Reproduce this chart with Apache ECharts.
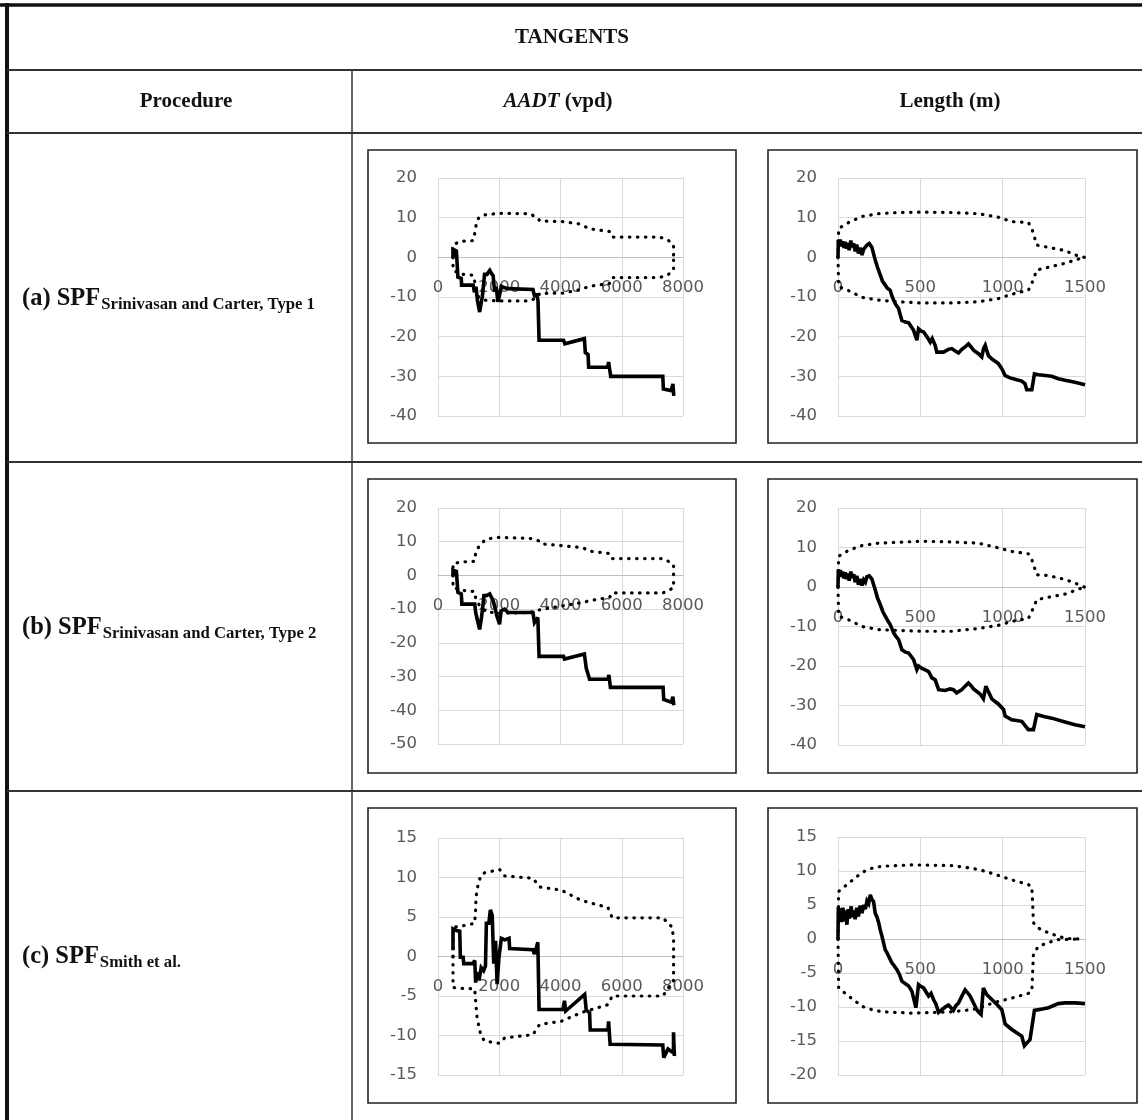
<!DOCTYPE html>
<html>
<head>
<meta charset="utf-8">
<script src="https://cdn.jsdelivr.net/npm/echarts/dist/echarts.min.js"></script>
<style>
  html, body { margin: 0; padding: 0; background: #fff; }
  #chart { width: 1142px; height: 1120px; }
</style>
</head>
<body>
<div id="chart"></div>
<script>
// ---- Text content ----
const tableTitle = 'TANGENTS';
const columnHeads = ['Procedure', 'AADT', ' (vpd)', 'Length (m)'];
const rowTags = ['(a) SPF', '(b) SPF', '(c) SPF'];
const rowSubs = ['Srinivasan and Carter, Type 1', 'Srinivasan and Carter, Type 2', 'Smith et al.'];

// ---- Axis ranges: [min, max, interval] ----
const aadtRange = [0, 8000, 2000];
const lengthRange = [0, 1500, 500];
const yRangeA1 = [-40, 20, 10];
const yRangeA2 = [-40, 20, 10];
const yRangeB1 = [-50, 20, 10];
const yRangeB2 = [-40, 20, 10];
const yRangeC1 = [-15, 15, 5];
const yRangeC2 = [-20, 15, 5];

// ---- (a) cumulative residuals vs AADT ----
const aadtA_cure = [[490,0],[490,2.0],[600,1.6],[640,1.4],[650,-5.0],[760,-5.3],[770,-7.0],[1150,-7.0],[1190,-8.8],[1240,-7.4],[1290,-11.0],[1360,-13.8],[1410,-11.5],[1450,-9.8],[1520,-4.3],[1600,-4.3],[1690,-3.3],[1740,-4.0],[1800,-4.6],[1850,-8.7],[1900,-7.4],[1955,-11.2],[2010,-9.5],[2065,-7.3],[2150,-7.6],[2290,-7.9],[3100,-8.1],[3150,-8.1],[3160,-10.0],[3210,-9.1],[3265,-10.8],[3300,-20.9],[4100,-20.9],[4140,-21.8],[4200,-21.3],[4780,-20.5],[4810,-24.0],[4900,-24.5],[4920,-27.7],[5540,-27.7],[5570,-26.4],[5610,-26.4],[5640,-30.0],[7340,-30.0],[7360,-33.2],[7610,-33.6],[7670,-31.9],[7700,-34.9]];
const aadtA_upper = [[490,0],[490,3.1],[707,4.0],[1142,4.2],[1197,4.5],[1215,6.5],[1250,8.5],[1330,10.0],[1523,10.7],[2013,11.1],[2992,11.0],[3264,9.9],[3318,9.2],[4080,9.0],[4624,8.4],[4950,7.2],[5603,6.5],[5690,5.1],[7235,5.1],[7507,4.4],[7692,3.1],[7692,0]];
const aadtA_lower = [[490,0],[490,-3.2],[707,-4.2],[1142,-4.5],[1197,-4.7],[1215,-6.6],[1250,-8.5],[1330,-10.0],[1523,-10.8],[2013,-11.0],[2992,-11.0],[3264,-10.0],[3318,-9.1],[4080,-9.0],[4624,-8.2],[4950,-7.3],[5603,-6.6],[5690,-5.1],[7235,-5.1],[7507,-4.4],[7692,-3.2],[7692,0]];

// ---- (a) cumulative residuals vs segment length ----
const lenA_cure = [[0,0],[2,4.4],[8,3.0],[14,4.5],[20,2.8],[28,4.0],[36,2.4],[44,3.9],[52,2.2],[60,3.6],[68,1.8],[78,4.2],[86,2.6],[96,3.5],[104,1.5],[114,3.2],[124,1.0],[134,2.4],[146,0.6],[156,2.1],[166,1.6],[176,3.1],[190,3.5],[206,2.5],[226,-0.7],[240,-2.5],[257,-4.5],[270,-6.0],[287,-7.0],[300,-7.8],[317,-8.3],[328,-9.8],[338,-10.8],[352,-12.0],[368,-12.9],[378,-14.5],[388,-15.9],[410,-16.3],[429,-16.5],[445,-17.5],[459,-18.4],[470,-19.8],[479,-20.9],[489,-18.0],[505,-18.6],[520,-18.8],[540,-20.0],[560,-21.4],[572,-20.5],[590,-22.2],[600,-23.9],[641,-23.9],[670,-23.2],[691,-23.0],[712,-23.6],[732,-24.1],[752,-23.2],[772,-22.6],[792,-21.8],[808,-22.6],[823,-23.4],[853,-24.3],[873,-25.1],[884,-23.0],[894,-22.2],[904,-23.6],[914,-24.8],[934,-25.6],[954,-26.2],[974,-26.8],[995,-28.1],[1015,-29.8],[1045,-30.4],[1080,-30.8],[1116,-31.2],[1136,-31.9],[1146,-33.4],[1177,-33.4],[1193,-29.4],[1217,-29.6],[1260,-29.8],[1298,-30.0],[1338,-30.6],[1379,-31.0],[1439,-31.5],[1500,-32.1]];
const lenA_upper = [[0,0],[4,7.3],[65,8.8],[146,10.3],[247,11.0],[368,11.3],[509,11.4],[691,11.3],[853,11.0],[974,10.1],[1055,9.0],[1156,8.8],[1177,7.3],[1207,3.1],[1278,2.5],[1379,1.7],[1439,0.6],[1496,0]];
const lenA_lower = [[0,0],[4,-7.4],[65,-8.4],[146,-10.1],[247,-10.8],[368,-11.2],[509,-11.5],[691,-11.5],[853,-11.2],[974,-10.4],[1055,-9.3],[1156,-8.3],[1177,-6.6],[1207,-3.2],[1278,-2.5],[1379,-1.5],[1439,-0.7],[1496,0]];

// ---- (b) cumulative residuals vs AADT ----
const aadtB_cure = [[490,0],[490,1.5],[600,1.2],[640,0.8],[650,-5.0],[760,-5.5],[780,-8.5],[1200,-8.5],[1230,-11.0],[1280,-13.0],[1360,-16.0],[1420,-12.5],[1460,-9.5],[1500,-6.0],[1580,-6.0],[1690,-5.5],[1750,-5.8],[1800,-7.5],[1860,-9.5],[1920,-12.0],[2010,-14.5],[2060,-10.5],[2170,-10.0],[2290,-11.0],[3100,-11.0],[3150,-14.0],[3260,-12.5],[3300,-24.0],[4100,-24.0],[4130,-24.8],[4780,-23.3],[4840,-27.5],[4900,-27.8],[4950,-30.8],[5550,-30.8],[5580,-29.5],[5630,-33.2],[7350,-33.2],[7370,-36.8],[7620,-37.6],[7670,-36.0],[7700,-38.5]];
const aadtB_upper = [[490,0],[490,3.5],[762,4.0],[1197,4.2],[1230,6.8],[1360,9.0],[1578,10.8],[2013,11.3],[2992,11.0],[3318,10.2],[3427,9.3],[4080,8.8],[4733,8.2],[4950,7.2],[5603,6.5],[5690,5.0],[7344,5.0],[7562,4.0],[7692,3.2],[7692,0]];
const aadtB_lower = [[490,0],[490,-3.7],[870,-4.5],[1197,-4.8],[1230,-6.8],[1360,-9.0],[1578,-10.8],[2013,-11.2],[2992,-11.0],[3318,-10.2],[4080,-9.0],[4733,-8.0],[4950,-7.5],[5603,-6.5],[5690,-5.2],[7344,-5.2],[7692,-3.7],[7692,0]];

// ---- (b) cumulative residuals vs segment length ----
const lenB_cure = [[0,0],[2,4.4],[8,3.0],[14,4.3],[20,2.6],[28,3.9],[36,2.2],[44,3.7],[52,2.0],[60,3.4],[68,1.6],[78,3.9],[86,2.3],[96,3.2],[104,1.2],[114,2.8],[124,0.6],[134,2.0],[146,0.4],[156,1.8],[166,1.2],[176,2.6],[190,2.8],[206,2.0],[226,-0.7],[240,-2.8],[257,-4.5],[272,-6.2],[287,-7.4],[302,-8.5],[317,-9.5],[328,-10.6],[338,-11.6],[352,-12.5],[368,-13.3],[378,-14.6],[388,-15.9],[410,-16.5],[429,-16.7],[445,-17.6],[459,-18.4],[470,-19.8],[479,-20.9],[489,-20.0],[510,-20.6],[530,-21.0],[550,-21.4],[570,-23.0],[590,-23.5],[611,-26.0],[651,-26.2],[680,-25.8],[701,-26.0],[720,-26.8],[732,-27.3],[752,-26.0],[772,-25.1],[792,-24.3],[808,-25.0],[823,-25.8],[863,-27.1],[883,-28.3],[898,-25.1],[910,-26.2],[934,-28.3],[954,-29.0],[974,-29.6],[1005,-31.0],[1015,-32.7],[1055,-33.6],[1116,-34.0],[1156,-36.1],[1187,-36.1],[1207,-32.3],[1250,-32.8],[1298,-33.2],[1379,-34.2],[1439,-34.9],[1500,-35.4]];
const lenB_upper = [[0,0],[4,7.8],[65,9.3],[146,10.5],[247,11.1],[509,11.6],[691,11.4],[853,11.1],[974,9.9],[1055,9.0],[1156,8.4],[1177,6.9],[1207,3.1],[1278,2.9],[1379,1.9],[1439,1.0],[1496,0]];
const lenB_lower = [[0,0],[4,-7.4],[65,-8.3],[146,-10.0],[247,-10.8],[509,-11.2],[691,-11.2],[853,-10.5],[974,-9.7],[1055,-8.7],[1156,-8.0],[1177,-6.2],[1207,-3.2],[1278,-2.6],[1379,-1.8],[1439,-0.9],[1496,0]];

// ---- (c) cumulative residuals vs AADT ----
const aadtC_cure = [[490,0.8],[490,3.5],[600,3.3],[710,3.2],[730,-0.1],[820,-0.1],[840,-0.9],[1140,-0.9],[1200,-0.5],[1230,-3.3],[1270,-2.0],[1340,-3.0],[1410,-1.4],[1490,-1.8],[1550,-1.2],[1580,4.2],[1660,4.2],[1710,5.9],[1770,5.2],[1820,-0.9],[1880,2.0],[1930,-3.5],[1990,-0.1],[2070,2.3],[2180,2.1],[2320,2.3],[2340,1.0],[3100,0.85],[3150,0.3],[3260,1.8],[3300,-6.7],[4080,-6.7],[4130,-5.6],[4170,-6.9],[4790,-4.8],[4840,-6.8],[4950,-7.1],[4970,-9.3],[5550,-9.3],[5570,-8.2],[5620,-11.1],[7340,-11.2],[7370,-12.8],[7510,-11.7],[7690,-12.2],[7690,-9.6],[7720,-12.6]];
const aadtC_upper = [[490,0],[490,3.7],[707,3.8],[1197,4.2],[1229,5.9],[1240,7.5],[1305,9.0],[1400,10.3],[1523,10.6],[2013,11.0],[2176,10.2],[3101,9.9],[3318,8.8],[4025,8.4],[4678,7.1],[5549,6.2],[5690,4.9],[7344,4.9],[7649,3.7],[7692,2.0],[7692,0]];
const aadtC_lower = [[490,0],[490,-3.9],[598,-4.0],[1197,-4.1],[1229,-5.6],[1273,-7.7],[1400,-10.0],[1523,-10.7],[2013,-11.0],[2176,-10.3],[3101,-9.9],[3318,-8.6],[4025,-8.2],[4678,-7.1],[5549,-6.1],[5690,-5.0],[7344,-5.0],[7692,-3.0],[7692,0]];

// ---- (c) cumulative residuals vs segment length ----
const lenC_cure = [[0,0],[2,4.7],[8,2.8],[14,4.5],[22,2.5],[30,4.6],[38,2.6],[46,4.2],[54,2.1],[62,4.4],[70,3.0],[80,4.8],[88,3.2],[96,4.2],[104,2.9],[114,4.6],[124,3.3],[134,4.9],[146,3.8],[156,5.0],[166,4.4],[176,5.6],[186,5.2],[196,6.5],[206,5.8],[216,5.5],[226,3.8],[237,3.2],[247,2.4],[257,1.3],[267,0.4],[277,-0.6],[287,-1.6],[297,-2.0],[307,-2.5],[317,-3.0],[327,-3.5],[343,-4.0],[358,-4.5],[373,-5.2],[388,-6.2],[410,-6.6],[429,-6.9],[449,-7.7],[460,-8.8],[473,-10.1],[489,-6.7],[505,-7.0],[520,-7.2],[535,-7.8],[550,-8.4],[565,-8.0],[580,-8.9],[595,-9.6],[611,-10.8],[631,-10.4],[651,-10.0],[671,-9.7],[686,-10.1],[701,-10.5],[716,-9.8],[732,-9.4],[752,-8.4],[772,-7.5],[790,-8.0],[803,-8.4],[823,-9.4],[843,-10.4],[856,-10.8],[869,-11.1],[883,-7.2],[904,-8.2],[934,-8.9],[964,-9.6],[995,-10.4],[1015,-12.5],[1055,-13.3],[1085,-13.8],[1116,-14.3],[1132,-15.7],[1150,-15.2],[1166,-14.8],[1193,-10.5],[1240,-10.3],[1278,-10.1],[1338,-9.5],[1379,-9.4],[1440,-9.4],[1500,-9.5]];
const lenC_upper = [[0,0],[4,7.0],[65,8.2],[146,9.8],[206,10.4],[267,10.7],[449,10.9],[691,10.8],[813,10.4],[873,10.1],[954,9.5],[1055,8.7],[1156,8.0],[1177,7.7],[1181,5.8],[1187,2.4],[1217,1.6],[1278,0.9],[1338,0.4],[1379,0.1],[1480,0]];
const lenC_lower = [[0,0],[4,-7.2],[65,-8.4],[146,-9.9],[206,-10.4],[267,-10.7],[449,-10.9],[691,-10.7],[813,-10.4],[873,-10.0],[954,-9.3],[1055,-8.7],[1156,-8.0],[1177,-7.7],[1181,-5.5],[1187,-2.1],[1217,-1.1],[1278,-0.5],[1338,-0.1],[1480,0]];

// ---- Panel layout (plot areas and frames, in pixels) ----
const panels = [
  { grid: [438, 178, 245, 238], frame: [368, 150, 368, 293], x: aadtRange,   y: yRangeA1, cure: aadtA_cure, up: aadtA_upper, low: aadtA_lower },
  { grid: [838, 178, 247, 238], frame: [768, 150, 369, 293], x: lengthRange, y: yRangeA2, cure: lenA_cure,  up: lenA_upper,  low: lenA_lower },
  { grid: [438, 508, 245, 236], frame: [368, 479, 368, 294], x: aadtRange,   y: yRangeB1, cure: aadtB_cure, up: aadtB_upper, low: aadtB_lower },
  { grid: [838, 508, 247, 237], frame: [768, 479, 369, 294], x: lengthRange, y: yRangeB2, cure: lenB_cure,  up: lenB_upper,  low: lenB_lower },
  { grid: [438, 838, 245, 237], frame: [368, 808, 368, 295], x: aadtRange,   y: yRangeC1, cure: aadtC_cure, up: aadtC_upper, low: aadtC_lower },
  { grid: [838, 837, 247, 238], frame: [768, 808, 369, 295], x: lengthRange, y: yRangeC2, cure: lenC_cure,  up: lenC_upper,  low: lenC_lower }
];

const serif = '"Liberation Serif", "Times New Roman", serif';
const sans = '"DejaVu Sans", "Open Sans", sans-serif';
const tickColor = '#595959';
const gridColor = '#d9d9d9';
const plain = function (v) { return String(v); };

const grids = [], xAxes = [], yAxes = [], series = [];
panels.forEach(function (p, i) {
  grids.push({ left: p.grid[0], top: p.grid[1], width: p.grid[2], height: p.grid[3],
               containLabel: false, outerBoundsMode: 'none' });
  // the category line sits on y = 0, so the horizontal axis is hung from the top edge down to that level
  const zeroDrop = p.grid[3] * p.y[1] / (p.y[1] - p.y[0]);
  xAxes.push({
    type: 'value', gridIndex: i, min: p.x[0], max: p.x[1], interval: p.x[2],
    position: 'top', offset: -zeroDrop,
    axisLine: { show: true, onZero: false, lineStyle: { color: '#bfbfbf', width: 1 } },
    axisTick: { show: false },
    axisLabel: { inside: true, margin: 22, color: tickColor, fontSize: 16.5, fontFamily: sans, formatter: plain,
                 showMinLabel: true, showMaxLabel: true, hideOverlap: false },
    splitLine: { show: true, lineStyle: { color: gridColor, width: 1 } }
  });
  yAxes.push({
    type: 'value', gridIndex: i, min: p.y[0], max: p.y[1], interval: p.y[2],
    axisLine: { show: false }, axisTick: { show: false },
    axisLabel: { margin: 21, color: tickColor, fontSize: 16.5, fontFamily: sans, formatter: plain,
                 showMinLabel: true, showMaxLabel: true, hideOverlap: false },
    splitLine: { show: true, lineStyle: { color: gridColor, width: 1 } }
  });
  const dotted = { color: '#000', width: 3.2, type: [0.5, 7.5], cap: 'round' };
  const base = { type: 'line', xAxisIndex: i, yAxisIndex: i, symbol: 'none', showSymbol: false,
                 animation: false, silent: true, clip: true };
  series.push(Object.assign({}, base, { data: p.up, lineStyle: dotted, z: 2 }));
  series.push(Object.assign({}, base, { data: p.low, lineStyle: dotted, z: 2 }));
  series.push(Object.assign({}, base, { data: p.cure, z: 3,
    lineStyle: { color: '#000', width: 3.6, join: 'miter', miterLimit: 3 } }));
});

// ---- Table rules, headings and row labels ----
const W = 1142, H = 1120;
function rule(x1, y1, x2, y2, w, c) {
  return { type: 'line', silent: true, z: 10, shape: { x1: x1, y1: y1, x2: x2, y2: y2 },
           style: { stroke: c, lineWidth: w } };
}

const measure = document.createElement('canvas').getContext('2d');
function text(str, x, y, size, opts) {
  const style = Object.assign({ text: str, fontSize: size, fontWeight: 'bold', fontFamily: serif, fill: '#111',
    align: 'center', verticalAlign: 'middle', textAlign: 'center', textVerticalAlign: 'middle' }, opts || {});
  return { type: 'text', x: x, y: y, silent: true, z: 10, style: style };
}

const graphics = [
  rule(0, 5, W, 5, 3.5, '#111'),
  rule(7, 3, 7, H, 4, '#111'),
  rule(7, 70, W, 70, 2, '#333'),
  rule(7, 133, W, 133, 2, '#333'),
  rule(7, 462, W, 462, 2, '#333'),
  rule(7, 791, W, 791, 2, '#333'),
  rule(352, 70, 352, H, 1.5, '#333'),
  text(tableTitle, 572, 38, 21),
  text(columnHeads[0], 186, 102, 21),
  { type: 'text', x: 558, y: 102, silent: true, z: 10,
    style: { text: '{i|' + columnHeads[1] + '}{b|' + columnHeads[2] + '}', align: 'center', verticalAlign: 'middle',
      textAlign: 'center', textVerticalAlign: 'middle',
      rich: { i: { fontSize: 21, fontWeight: 'bold', fontStyle: 'italic', fontFamily: serif, fill: '#111', color: '#111' },
              b: { fontSize: 21, fontWeight: 'bold', fontFamily: serif, fill: '#111', color: '#111' } } } },
  text(columnHeads[3], 950, 102, 21)
];

const rowCenters = [297.5, 626.5, 955.5];
rowTags.forEach(function (tag, i) {
  measure.font = 'bold 24.5px ' + serif;
  const tw = measure.measureText(tag).width;
  graphics.push(text(tag, 22, rowCenters[i] + 1.5, 24.5, { align: 'left', textAlign: 'left' }));
  graphics.push(text(rowSubs[i], 22 + tw + 1, rowCenters[i] + 7.5, 16.7, { align: 'left', textAlign: 'left' }));
});

panels.forEach(function (p) {
  graphics.push({ type: 'rect', silent: true, z: 10,
    shape: { x: p.frame[0], y: p.frame[1], width: p.frame[2], height: p.frame[3] },
    style: { fill: 'none', stroke: '#222', lineWidth: 1.6 } });
});

const chart = echarts.init(document.getElementById('chart'), null, { renderer: 'canvas', width: W, height: H });
chart.setOption({
  backgroundColor: '#fff',
  animation: false,
  grid: grids,
  xAxis: xAxes,
  yAxis: yAxes,
  series: series,
  graphic: { elements: graphics }
});
</script>
</body>
</html>
